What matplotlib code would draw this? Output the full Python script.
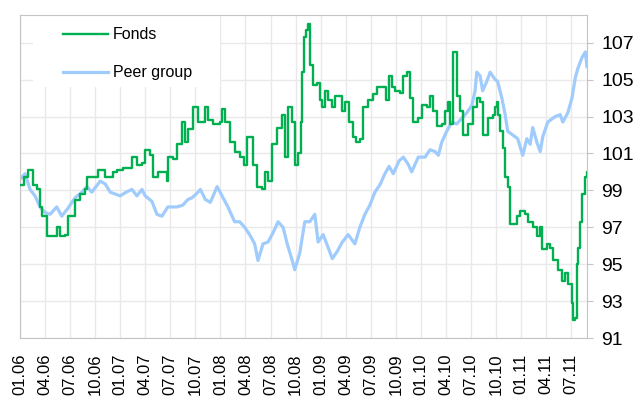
import matplotlib
matplotlib.use("Agg")
import matplotlib.pyplot as plt
from matplotlib.patches import Rectangle

plt.rcParams['font.family'] = ['Liberation Sans', 'DejaVu Sans']

# months since 01.2006
fonds_t = [0.0, 0.5, 1.0, 1.6, 2.0, 2.4, 2.6, 3.2, 3.8, 4.4, 4.8, 5.4, 5.7, 6.6, 7.2, 7.8, 8.0, 9.0, 9.3, 10.2,
           10.8, 11.1, 11.6, 12.3, 13.4, 14.0, 14.6, 15.0, 15.6, 15.9, 16.5, 17.6, 17.7, 18.3, 18.8, 19.4, 19.8, 20.1,
           20.7, 21.3, 22.2, 22.5, 22.8, 23.1, 24.0, 24.2, 24.6, 25.1, 25.7, 26.3, 26.8, 27.2, 27.5, 27.9, 28.4, 29.0,
           29.3, 29.7, 30.2, 30.8, 31.4, 31.7, 32.1, 32.6, 32.9, 33.3, 33.7, 33.8, 34.0, 34.3, 34.5, 34.7, 35.1, 35.6,
           35.9, 36.2, 36.5, 36.9, 37.4, 37.7, 38.2, 38.6, 38.9, 39.4, 39.9, 40.2, 40.7, 41.1, 41.7, 42.3, 42.8, 43.4,
           43.8, 44.2, 44.6, 44.9, 45.5, 45.9, 46.3, 46.7, 47.1, 47.7, 48.1, 48.7, 49.1, 49.5, 49.9, 50.5, 50.9, 51.3,
           51.5, 51.9, 52.3, 52.7, 53.1, 53.7, 54.3, 54.7, 55.1, 55.4, 56.0, 56.6, 56.9, 57.1, 57.2, 57.5, 57.8, 58.1,
           58.4, 58.7, 59.0, 59.5, 59.9, 60.5, 60.8, 61.4, 61.9, 62.3, 62.5, 63.1, 63.5, 63.8, 64.4, 64.9, 65.3, 65.6,
           66.1, 66.2, 66.5, 66.7, 66.8, 67.1, 67.3, 67.7, 67.9, 68.0]
fonds_v = [99.3, 99.7, 100.1, 99.3, 99.05, 98.1, 97.6, 96.5, 96.5, 97.0, 96.5, 96.6, 97.6, 98.5, 98.8, 99.05, 99.75,
           99.7, 100.1, 99.7, 99.7, 100.0, 100.1, 100.2, 100.8, 100.4, 100.5, 101.2, 100.9, 99.75, 100.0, 99.5, 100.8,
           100.7, 101.5, 102.7, 101.6, 102.3, 103.5, 102.7, 103.5, 102.8, 102.8, 102.6, 102.7, 103.4, 102.7, 101.6,
           101.1, 100.8, 100.4, 101.9, 101.9, 100.4, 99.2, 99.05, 100.0, 99.5, 101.5, 102.4, 103.1, 100.8, 103.5,
           102.7, 100.4, 101.0, 102.7, 105.4, 107.3, 107.7, 108.0, 105.8, 104.7, 104.8, 103.9, 103.5, 104.4, 103.9,
           103.5, 104.1, 104.1, 103.3, 103.8, 102.7, 101.9, 101.6, 101.8, 103.5, 103.9, 104.2, 104.6, 104.6, 103.9,
           105.2, 104.6, 104.4, 104.3, 105.2, 105.4, 104.0, 102.7, 102.9, 103.6, 103.5, 104.1, 103.3, 102.5, 102.6,
           103.3, 103.8, 102.6, 106.5, 104.1, 103.3, 102.0, 102.6, 103.5, 104.0, 103.8, 102.0, 102.9, 103.1, 103.5,
           103.8, 103.1, 102.2, 101.3, 99.7, 99.2, 97.2, 97.2, 97.6, 97.9, 97.7, 97.3, 97.0, 96.5, 97.0, 95.8, 96.1,
           95.9, 95.2, 94.7, 94.1, 94.5, 93.9, 92.9, 92.0, 92.1, 95.0, 95.9, 97.3, 98.8, 99.7, 100.0, 99.7]

peer_t = [0.0, 0.6, 1.2, 1.8, 2.4, 3.0, 3.6, 4.4, 5.0, 5.7, 6.6, 7.4, 8.0, 8.6, 9.6, 10.2, 10.8, 11.4, 12.0, 12.7,
          13.4, 14.0, 14.6, 15.0, 15.8, 16.4, 17.0, 17.7, 18.3, 18.8, 19.5, 20.1, 20.6, 21.1, 21.6, 22.2, 22.8, 23.6,
          24.2, 24.9, 25.7, 26.3, 26.9, 27.5, 28.1, 28.5, 29.1, 29.7, 30.3, 30.9, 31.5, 32.0, 32.6, 32.9, 33.5, 34.1,
          34.7, 35.3, 35.7, 36.3, 36.9, 37.4, 38.0, 38.6, 39.3, 40.1, 40.7, 41.3, 41.9, 42.5, 43.1, 43.7, 44.2, 44.7,
          45.4, 45.9, 46.5, 46.9, 47.7, 48.5, 49.1, 49.7, 50.1, 50.5, 51.1, 51.7, 52.3, 52.9, 53.5, 54.1, 54.5, 54.7,
          55.1, 55.4, 55.9, 56.3, 56.9, 57.2, 57.7, 58.1, 58.4, 59.0, 59.6, 60.2, 60.7, 61.1, 61.4, 61.9, 62.3, 62.6,
          63.2, 64.1, 64.7, 65.0, 65.6, 66.1, 66.5, 66.8, 67.3, 67.7, 67.9]
peer_v = [99.6, 99.9, 99.05, 98.7, 98.1, 97.8, 97.7, 98.1, 97.6, 98.0, 98.6, 98.9, 99.2, 98.9, 99.5, 99.35, 98.9,
          98.8, 98.7, 98.9, 99.05, 98.7, 99.05, 98.7, 98.4, 97.7, 97.6, 98.1, 98.1, 98.1, 98.2, 98.5, 98.6, 98.8,
          99.05, 98.5, 98.35, 99.2, 98.7, 98.1, 97.3, 97.3, 97.0, 96.6, 96.1, 95.2, 96.1, 96.2, 96.7, 97.3, 97.0,
          96.1, 95.2, 94.7, 95.6, 97.3, 97.3, 97.7, 96.2, 96.6, 95.9, 95.3, 95.7, 96.2, 96.6, 96.1, 97.0, 97.7, 98.2,
          98.9, 99.3, 99.9, 100.3, 99.9, 100.6, 100.8, 100.4, 100.0, 100.8, 100.8, 101.2, 101.1, 100.9, 101.6, 102.2,
          102.7, 102.6, 102.9, 103.2, 103.6, 104.4, 105.4, 105.2, 104.4, 104.9, 105.4, 105.0, 104.9, 104.0, 103.1,
          102.2, 102.0, 101.8, 100.9, 101.8, 101.5, 102.4, 101.6, 101.1, 101.9, 102.7, 103.0, 103.1, 102.7, 103.2,
          104.0, 105.1, 105.6, 106.2, 106.5, 105.7]

tick_pos = [0, 3, 6, 9, 12, 15, 18, 21, 24, 27, 30, 33, 36, 39, 42, 45, 48, 51, 54, 57, 60, 63, 66]
tick_labels = ["01.06", "04.06", "07.06", "10.06", "01.07", "04.07", "07.07", "10.07",
               "01.08", "04.08", "07.08", "10.08", "01.09", "04.09", "07.09", "10.09",
               "01.10", "04.10", "07.10", "10.10", "01.11", "04.11", "07.11"]
y_ticks = [91, 93, 95, 97, 99, 101, 103, 105, 107]

GREEN = "#00b050"
BLUE = "#9fcbfd"
GRID = "#e9e9e9"
SPINE = "#c4c4c4"

fig = plt.figure(figsize=(6.34, 4.01), dpi=100)
ax = fig.add_axes([20 / 634, 1 - 338 / 401, 567 / 634, 323 / 401])

peer_line, = ax.plot(peer_t, peer_v, color=BLUE, lw=2.3, label="Peer group", zorder=2)
fonds_line, = ax.plot(fonds_t, fonds_v, color=GREEN, lw=1.7, drawstyle="steps-post", label="Fonds", zorder=3)

ax.set_xlim(0, 67.9)
ax.set_ylim(91, 108.5)
ax.set_xticks(tick_pos)
ax.set_xticklabels(tick_labels, rotation=90, fontsize=12)
ax.set_yticks(y_ticks)
ax.yaxis.tick_right()
ax.tick_params(axis="y", labelsize=14, length=4.5, color=SPINE, pad=6)
ax.tick_params(axis="x", length=0, pad=11)
ax.grid(True, color=GRID, lw=1)
ax.set_axisbelow(True)
for s in ax.spines.values():
    s.set_color(SPINE)

# white box behind the legend hides the grid there
ax.add_patch(Rectangle((0.023, 0.777), 0.33, 0.223, transform=ax.transAxes,
                       facecolor="white", edgecolor="none", zorder=1.5))

leg = ax.legend(handles=[fonds_line, peer_line], loc="upper left", bbox_to_anchor=(0.0758, 0.962),
                frameon=False, fontsize=11.5, handlelength=2.8, labelspacing=1.45, borderpad=0,
                handletextpad=0.33, borderaxespad=0)

fig.savefig("out.png", dpi=100)
